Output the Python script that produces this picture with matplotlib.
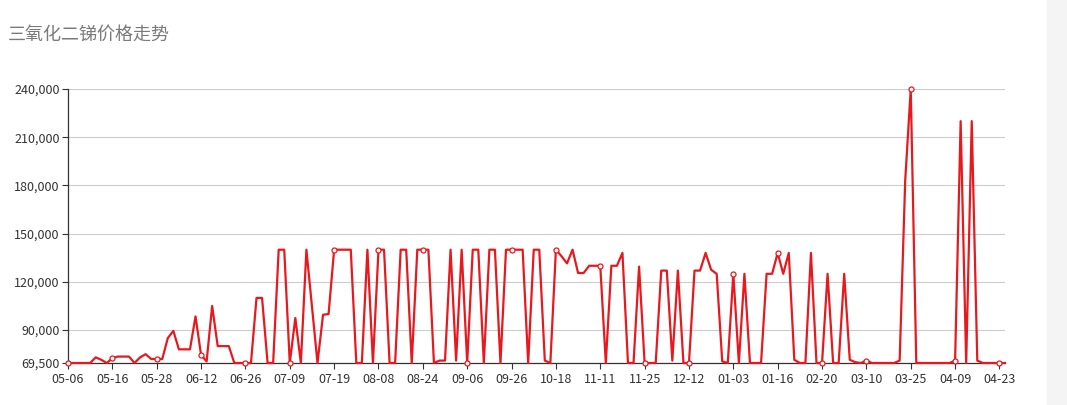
import matplotlib
matplotlib.use('Agg')
from matplotlib import pyplot as plt
from matplotlib.patches import Rectangle
import numpy as np

plt.rcParams['font.family'] = ['Noto Sans CJK SC', 'DejaVu Sans']

title = '三氧化二锑价格走势'

# tick labels, one every 8 points
tick_labels = ['05-06', '05-16', '05-28', '06-12', '06-26', '07-09', '07-19',
               '08-08', '08-24', '09-06', '09-26', '10-18', '11-11', '11-25',
               '12-12', '01-03', '01-16', '02-20', '03-10', '03-25', '04-09',
               '04-23']
label_step = 8

prices = [
    69500, 69500, 69500, 69500, 69500, 73000, 71500, 69500,      # 0-7
    72500, 73500, 73500, 73500, 69500, 73000, 75000, 72000,      # 8-15
    72000, 72000, 85000, 89500, 78000, 78000, 78000, 98500,      # 16-23
    74500, 70500, 105000, 80000, 80000, 80000, 69500, 69500,     # 24-31
    69500, 69500, 110000, 110000, 69500, 69500, 140000, 140000,  # 32-39
    69500, 97500, 69500, 140000, 105000, 69500, 99500, 100000,   # 40-47
    140000, 140000, 140000, 140000, 69500, 69500, 140000, 69500, # 48-55
    140000, 140000, 69500, 69500, 140000, 140000, 69500, 140000, # 56-63
    140000, 140000, 69500, 71000, 71000, 140000, 71000, 140000,  # 64-71
    69500, 140000, 140000, 69500, 140000, 140000, 69500, 140000, # 72-79
    140000, 140000, 140000, 69500, 140000, 140000, 71000, 69500, # 80-87
    140000, 136000, 131500, 140000, 125500, 125500, 130000, 130000,  # 88-95
    130000, 69500, 130000, 130000, 138000, 69500, 69500, 129500, # 96-103
    69500, 69500, 69500, 127000, 127000, 71000, 127000, 69500,   # 104-111
    69500, 127000, 127000, 138000, 127500, 125000, 70500, 69500, # 112-119
    125000, 69500, 125000, 69500, 69500, 69500, 125000, 125000,  # 120-127
    138000, 125000, 138000, 71500, 69500, 69500, 138000, 69500,  # 128-135
    69500, 125000, 69500, 69500, 125000, 71500, 70000, 69500,    # 136-143
    71000, 69500, 69500, 69500, 69500, 69500, 71000, 183000,     # 144-151
    240000, 69500, 69500, 69500, 69500, 69500, 69500, 69500,     # 152-159
    71000, 220000, 69500, 220000, 71000, 69500, 69500, 69500,    # 160-167
    69500, 69500,                                                # 168-169
]

y_ticks = [69500, 90000, 120000, 150000, 180000, 210000, 240000]

W, H = 1067, 405
fig = plt.figure(figsize=(W / 100, H / 100), dpi=100)
fig.patches.append(Rectangle((1047 / W, 0), 20 / W, 1, transform=fig.transFigure,
                             color='#f4f4f4', zorder=0))

ax = fig.add_axes([68 / W, 42 / H, 937 / W, 274 / H])
x = np.arange(len(prices))
ax.plot(x, prices, color='#e8191e', lw=1.6, marker='o', markevery=label_step,
        markersize=3.6, markerfacecolor='white', markeredgecolor='#e8191e',
        markeredgewidth=0.9, clip_on=False, zorder=3)

ax.set_xlim(0, len(prices) - 1)
ax.set_ylim(y_ticks[0], y_ticks[-1])
ax.set_xticks(np.arange(0, len(tick_labels) * label_step, label_step))
ax.set_xticklabels(tick_labels)
ax.set_yticks(y_ticks)
ax.set_yticklabels([f'{v:,}' for v in y_ticks])

ax.grid(axis='y', color='#cccccc', lw=0.8)
ax.set_axisbelow(True)
for s in ['top', 'right']:
    ax.spines[s].set_visible(False)
for s in ['left', 'bottom']:
    ax.spines[s].set_color('#333333')
    ax.spines[s].set_linewidth(0.9)
ax.tick_params(colors='#333333', labelsize=9, length=4, width=0.8)
ax.tick_params(axis='x', pad=3.5)
ax.tick_params(axis='y', pad=2)

fig.text(8 / W, 1 - 35 / H, title, fontsize=13, color='#7a7a7a', va='center', ha='left')

fig.savefig('out.png', dpi=100)
